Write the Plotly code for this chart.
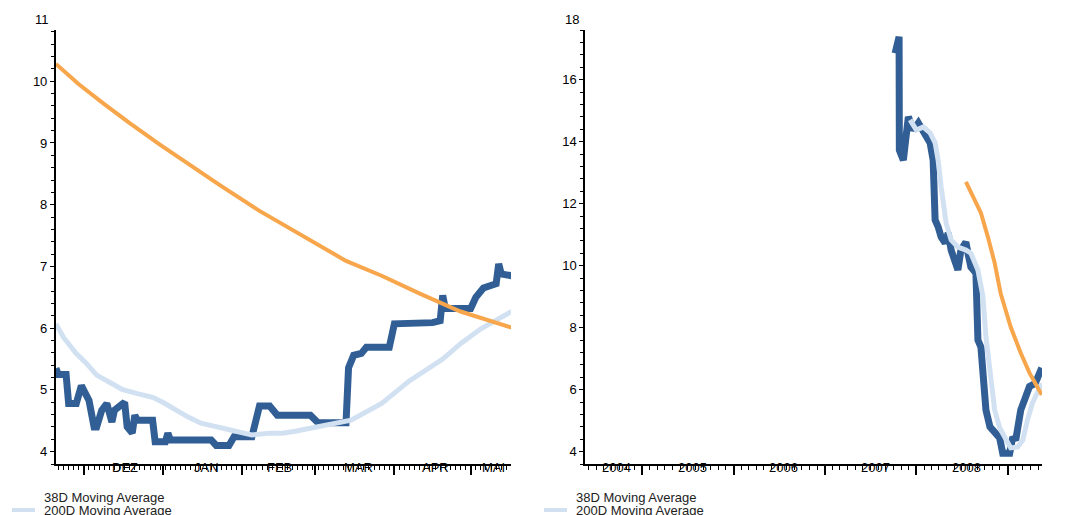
import plotly.graph_objects as go

# The page body adds an 8px margin, so the figure is sized to end exactly at the window edges.
OFF = 8
FW, FH = 1076 - OFF, 515 - OFF


def px_x(p):
    return (p - OFF) / FW


def px_y(p):
    return 1 - (p - OFF) / FH


# ---------------- LEFT PANEL (Nov 2007 - May 2008) ----------------
left_price_dates = ["2007-11-20", "2007-11-21", "2007-11-24", "2007-11-25", "2007-11-28", "2007-11-30",
                    "2007-12-03", "2007-12-05", "2007-12-06", "2007-12-08", "2007-12-10", "2007-12-12",
                    "2007-12-13", "2007-12-17", "2007-12-18", "2007-12-20", "2007-12-21", "2007-12-22",
                    "2007-12-28", "2007-12-29", "2008-01-02", "2008-01-03", "2008-01-04", "2008-01-20",
                    "2008-01-22", "2008-01-27", "2008-01-29", "2008-02-05", "2008-02-08", "2008-02-12",
                    "2008-02-15", "2008-02-28", "2008-03-02", "2008-03-13", "2008-03-14", "2008-03-16",
                    "2008-03-19", "2008-03-21", "2008-03-30", "2008-04-01", "2008-04-16", "2008-04-19",
                    "2008-04-20", "2008-04-21", "2008-05-01", "2008-05-03", "2008-05-06", "2008-05-11",
                    "2008-05-12", "2008-05-13", "2008-05-17"]
left_price_vals = [5.35, 5.25, 5.25, 4.78, 4.78, 5.07,
                   4.83, 4.40, 4.40, 4.67, 4.78, 4.48,
                   4.67, 4.80, 4.40, 4.30, 4.59, 4.51,
                   4.51, 4.16, 4.16, 4.30, 4.19, 4.19,
                   4.10, 4.10, 4.24, 4.24, 4.74, 4.74,
                   4.59, 4.59, 4.47, 4.47, 5.36, 5.56,
                   5.59, 5.69, 5.69, 6.07, 6.09, 6.12,
                   6.53, 6.32, 6.32, 6.50, 6.65, 6.72,
                   7.04, 6.88, 6.85]

left_ma38_dates = ["2007-11-20", "2007-11-23", "2007-11-28", "2007-12-02", "2007-12-06", "2007-12-11",
                   "2007-12-16", "2007-12-22", "2007-12-28", "2008-01-01", "2008-01-05", "2008-01-11",
                   "2008-01-16", "2008-01-22", "2008-01-26", "2008-01-31", "2008-02-05", "2008-02-12",
                   "2008-02-17", "2008-02-22", "2008-02-27", "2008-03-15", "2008-03-27", "2008-04-07",
                   "2008-04-20", "2008-04-27", "2008-05-05", "2008-05-11", "2008-05-17"]
left_ma38_vals = [6.07, 5.85, 5.59, 5.43, 5.24, 5.12,
                  5.01, 4.94, 4.88, 4.80, 4.70, 4.56,
                  4.46, 4.40, 4.35, 4.32, 4.27, 4.30,
                  4.30, 4.33, 4.37, 4.51, 4.78, 5.15,
                  5.50, 5.75, 5.99, 6.12, 6.27]

left_ma200_dates = ["2007-11-20", "2007-11-29", "2007-12-09", "2007-12-19", "2007-12-31", "2008-01-12",
                    "2008-01-24", "2008-02-08", "2008-02-24", "2008-03-13", "2008-03-27", "2008-04-11",
                    "2008-04-27", "2008-05-17"]
left_ma200_vals = [10.28, 9.95, 9.63, 9.32, 8.97, 8.63,
                   8.30, 7.90, 7.52, 7.09, 6.85, 6.56,
                   6.27, 6.01]

left_month_starts = ["2007-12-01", "2008-01-01", "2008-02-01", "2008-03-01", "2008-04-01", "2008-05-01"]
left_month_labels = ["DEZ", "JAN", "FEB", "MAR", "APR", "MAI"]
left_label_dates = ["2007-12-17", "2008-01-18", "2008-02-16", "2008-03-18", "2008-04-17", "2008-05-10"]

# ---------------- RIGHT PANEL (May 2003 - May 2008) ----------------
right_price_dates = ["2006-10-08", "2006-10-24", "2006-10-25", "2006-11-10", "2006-11-30", "2006-12-20",
                     "2007-01-09", "2007-02-05", "2007-02-25", "2007-03-09", "2007-03-17", "2007-03-29",
                     "2007-04-10", "2007-04-26", "2007-05-08", "2007-05-20", "2007-06-05", "2007-06-16",
                     "2007-06-28", "2007-07-18", "2007-07-26", "2007-08-07", "2007-08-27", "2007-09-04",
                     "2007-09-16", "2007-09-24", "2007-10-06", "2007-10-22", "2007-11-10", "2007-11-30",
                     "2007-12-12", "2008-01-09", "2008-01-21", "2008-02-02", "2008-02-22", "2008-03-12",
                     "2008-03-28", "2008-04-20", "2008-05-16"]
right_price_vals = [16.85, 17.38, 13.73, 13.40, 14.80, 14.37,
                    14.60, 14.28, 13.96, 13.40, 11.47, 11.25,
                    10.92, 10.73, 11.05, 10.50, 10.18, 9.86,
                    10.50, 10.76, 10.40, 9.95, 9.76, 7.60,
                    7.37, 6.40, 5.34, 4.80, 4.63, 4.44,
                    3.95, 3.95, 4.47, 4.37, 5.34, 5.83,
                    6.10, 6.20, 6.70]

right_ma38_dates = ["2006-12-07", "2007-01-01", "2007-01-29", "2007-02-25", "2007-03-17", "2007-03-29",
                    "2007-04-10", "2007-04-30", "2007-05-20", "2007-06-16", "2007-07-18", "2007-08-07",
                    "2007-09-04", "2007-09-24", "2007-10-06", "2007-10-22", "2007-11-10", "2007-11-30",
                    "2007-12-20", "2008-01-13", "2008-02-10", "2008-03-01", "2008-03-20", "2008-04-09",
                    "2008-05-16"]
right_ma38_vals = [14.70, 14.37, 14.47, 14.28, 13.96, 13.40,
                   12.54, 11.37, 10.83, 10.60, 10.50, 10.40,
                   9.86, 9.00, 7.70, 6.54, 5.34, 4.76,
                   4.47, 4.12, 4.15, 4.37, 5.02, 5.57,
                   6.20]

right_ma200_dates = ["2007-07-18", "2007-08-15", "2007-09-16", "2007-10-14", "2007-11-10", "2007-12-04",
                     "2008-01-13", "2008-02-22", "2008-03-28", "2008-05-16"]
right_ma200_vals = [12.70, 12.21, 11.70, 10.92, 10.08, 9.10,
                    8.02, 7.18, 6.54, 5.83]

right_year_starts = ["2004-01-01", "2005-01-01", "2006-01-01", "2007-01-01", "2008-01-01"]
right_year_labels = ["2004", "2005", "2006", "2007", "2008"]
right_label_dates = ["2003-09-22", "2004-07-20", "2005-07-20", "2006-07-20", "2007-07-20"]

legend_labels = ["38D Moving Average", "200D Moving Average"]

DARK = "#315f95"
LIGHT = "#d2e1f2"
ORANGE = "#f8a64c"
FONT = "Liberation Sans, Arial, sans-serif"

fig = go.Figure()
for xa, ya, pd_, pv, md, mv, od, ov in [
    ("x", "y", left_price_dates, left_price_vals, left_ma38_dates, left_ma38_vals, left_ma200_dates, left_ma200_vals),
    ("x2", "y2", right_price_dates, right_price_vals, right_ma38_dates, right_ma38_vals, right_ma200_dates, right_ma200_vals),
]:
    fig.add_trace(go.Scatter(x=pd_, y=pv, mode="lines", line=dict(color=DARK, width=7),
                             xaxis=xa, yaxis=ya, showlegend=False, name="Price"))
    fig.add_trace(go.Scatter(x=md, y=mv, mode="lines", line=dict(color=LIGHT, width=5),
                             xaxis=xa, yaxis=ya, showlegend=False, name=legend_labels[0]))
    fig.add_trace(go.Scatter(x=od, y=ov, mode="lines", line=dict(color=ORANGE, width=4),
                             xaxis=xa, yaxis=ya, showlegend=False, name=legend_labels[1]))

ydom = [px_y(464), px_y(30)]


def xaxis_cfg(dom, rng, tickvals, minor_dtick, minor_tick0, anchor):
    return dict(domain=dom, range=rng, type="date", anchor=anchor,
                tickvals=tickvals, ticktext=[""] * len(tickvals),
                ticks="outside", ticklen=9, tickwidth=1.5, tickcolor="black",
                showline=True, linecolor="black", linewidth=2,
                showgrid=False, zeroline=False, fixedrange=True,
                minor=dict(ticks="outside", ticklen=4, tickwidth=1, tickcolor="black",
                           dtick=minor_dtick, tick0=minor_tick0, showgrid=False))


def yaxis_cfg(rng, dtick, minor_dtick, anchor):
    return dict(domain=ydom, range=rng, anchor=anchor, dtick=dtick, tick0=0,
                ticks="outside", ticklen=4, tickwidth=1.2, tickcolor="black",
                showline=True, linecolor="black", linewidth=1.5,
                showgrid=False, zeroline=False, fixedrange=True,
                tickfont=dict(size=13, color="black", family=FONT),
                minor=dict(ticks="outside", ticklen=3, tickwidth=1, tickcolor="black",
                           dtick=minor_dtick, showgrid=False))


fig.update_layout(
    width=FW, height=FH,
    margin=dict(l=0, r=0, t=0, b=0),
    paper_bgcolor="white", plot_bgcolor="white",
    font=dict(family=FONT, size=12, color="black"),
    showlegend=False,
    xaxis=xaxis_cfg([px_x(55.7), px_x(511)], ["2007-11-19 22:00", "2008-05-16 20:00"],
                    left_month_starts, 2 * 86400000, "2007-12-01", "y"),
    yaxis=yaxis_cfg([3.8, 10.83], 1, 0.2, "x"),
    xaxis2=xaxis_cfg([px_x(585), px_x(1042)], ["2003-05-18", "2008-05-17"],
                     right_year_starts, "M1", "2003-01-01", "y2"),
    yaxis2=yaxis_cfg([3.6, 17.6], 2, 0.4, "x2"),
)

ann = []
label_y = px_y(467)
for d, t in zip(left_label_dates, left_month_labels):
    ann.append(dict(x=d, y=label_y, xref="x", yref="paper", text=t, showarrow=False,
                    xanchor="center", yanchor="middle", font=dict(size=13, color="black")))
for d, t in zip(right_label_dates, right_year_labels):
    ann.append(dict(x=d, y=label_y, xref="x2", yref="paper", text=t, showarrow=False,
                    xanchor="center", yanchor="middle", font=dict(size=13, color="black")))
# top labels drawn above the axis end
ann.append(dict(x=px_x(51), y=px_y(19), xref="paper", yref="paper", text="11", showarrow=False,
                xanchor="right", yanchor="middle", font=dict(size=13, color="black")))
ann.append(dict(x=px_x(581), y=px_y(19), xref="paper", yref="paper", text="18", showarrow=False,
                xanchor="right", yanchor="middle", font=dict(size=13, color="black")))

shapes = []
for x0 in [0, 532]:
    ann.append(dict(x=px_x(x0 + 42), y=px_y(497), xref="paper", yref="paper", text=legend_labels[0],
                    showarrow=False, xanchor="left", yanchor="middle", font=dict(size=13, color="#222")))
    ann.append(dict(x=px_x(x0 + 42), y=px_y(510), xref="paper", yref="paper", text=legend_labels[1],
                    showarrow=False, xanchor="left", yanchor="middle", font=dict(size=13, color="#222")))
    shapes.append(dict(type="line", xref="paper", yref="paper", x0=px_x(x0 + 12), x1=px_x(x0 + 35),
                       y0=px_y(510), y1=px_y(510), line=dict(color=LIGHT, width=4)))
for xr in [540, 1068]:
    ann.append(dict(x=px_x(xr), y=px_y(511), xref="paper", yref="paper", text="Quelle: Thomson Datastream",
                    showarrow=False, xanchor="right", yanchor="top", font=dict(size=11, color="#666")))

fig.update_layout(annotations=ann, shapes=shapes)
fig.write_html("out.html")
